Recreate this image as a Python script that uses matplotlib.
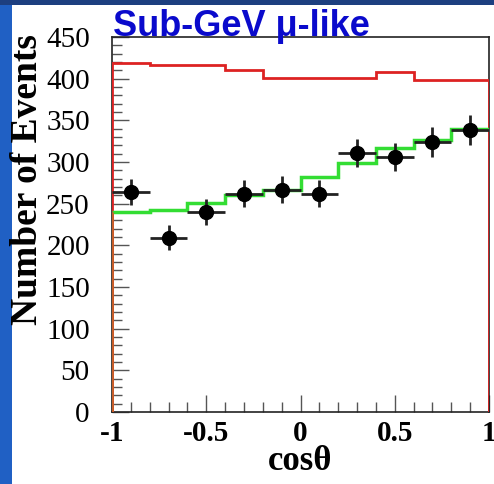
import numpy as np
import matplotlib.pyplot as plt
from matplotlib.patches import Rectangle
from matplotlib.ticker import MultipleLocator

# bin edges in cos(theta)
bin_edges = [-1.0, -0.8, -0.6, -0.4, -0.2, 0.0, 0.2, 0.4, 0.6, 0.8, 1.0]

# no-oscillation MC (red)
mc_noosc = [419, 417, 417, 411, 401, 401, 401, 408, 398, 398]
# best fit oscillation MC (green)
mc_osc = [240, 242, 251, 260, 266, 282, 299, 317, 327, 340]

# data points
data_x = [-0.9, -0.7, -0.5, -0.3, -0.1, 0.1, 0.3, 0.5, 0.7, 0.9]
data_y = [264, 209, 240, 262, 267, 262, 311, 306, 324, 339]
data_yerr = [16, 15, 16, 16, 16, 16, 17, 17, 18, 18]
data_xerr = [0.1] * 10

fig = plt.figure(figsize=(4.94, 4.84), dpi=100)
fig.patch.set_facecolor('white')

# blue slide background strips
fig.patches.append(Rectangle((0, 0), 12 / 494, 1, transform=fig.transFigure,
                             facecolor='#2060c4', edgecolor='none', zorder=0))
fig.patches.append(Rectangle((0, 1 - 5 / 484), 1, 5 / 484, transform=fig.transFigure,
                             facecolor='#1d3f80', edgecolor='none', zorder=0))

ax = fig.add_axes([112 / 494, 1 - 412 / 484, 377 / 494, 375 / 484])

ax.stairs(mc_noosc, bin_edges, baseline=0, color='#dd2222', lw=2, zorder=3)
ax.stairs(mc_osc, bin_edges, baseline=None, color='#33dd33', lw=2.5, zorder=4)
# red and green overlap on the left edge below the green level
ax.vlines(bin_edges[0], 0, mc_osc[0], color='#c8602a', lw=2, zorder=4)

ax.errorbar(data_x, data_y, xerr=data_xerr, yerr=data_yerr, fmt='o',
            color='black', ecolor='#222222', elinewidth=2, capsize=0,
            markersize=10, zorder=5)

ax.set_xlim(-1, 1)
ax.set_ylim(0, 450)

ax.xaxis.set_major_locator(MultipleLocator(0.5))
ax.xaxis.set_minor_locator(MultipleLocator(0.1))
ax.yaxis.set_major_locator(MultipleLocator(50))
ax.yaxis.set_minor_locator(MultipleLocator(10))
ax.tick_params(which='both', direction='in', top=False, right=False, color='#555555')
ax.tick_params(which='major', length=12, width=1)
ax.tick_params(which='minor', length=7, width=1)
ax.tick_params(axis='x', pad=6)
ax.tick_params(axis='y', pad=16)

ax.set_xticks([-1, -0.5, 0, 0.5, 1])
ax.set_xticklabels(['-1', '-0.5', '0', '0.5', '1'], fontfamily='Liberation Serif',
                   fontsize=21, fontweight='bold')
ax.set_yticks(np.arange(0, 451, 50))
ax.set_yticklabels([str(v) for v in range(0, 451, 50)], fontfamily='Liberation Serif',
                   fontsize=21)

for s in ax.spines.values():
    s.set_linewidth(1.2)
    s.set_color('#222222')

ax.set_xlabel('cos\u03b8', fontfamily='Liberation Serif', fontsize=25,
              fontweight='bold', labelpad=-2)
fig.text(28 / 494, 1 - 180 / 484, 'Number of Events', rotation=90,
         fontfamily='Liberation Serif', fontsize=27, fontweight='bold',
         ha='center', va='center')

fig.text(113 / 494, 1 - 36 / 484, 'Sub-GeV \u03bc-like', color='#0a0acc',
         fontfamily='Liberation Sans', fontsize=26, fontweight='bold',
         ha='left', va='baseline')

fig.savefig('out.png', dpi=100)
